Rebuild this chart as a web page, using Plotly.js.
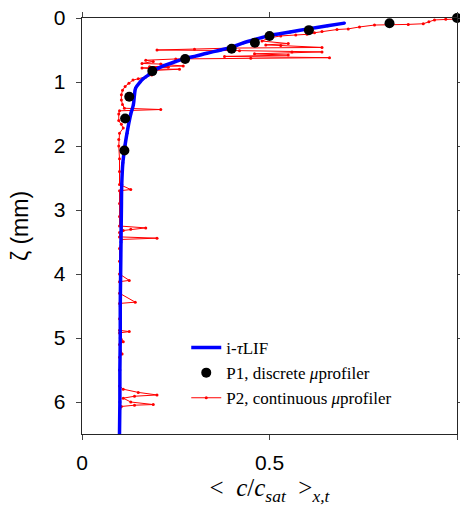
<!DOCTYPE html>
<html><head><meta charset="utf-8">
<script src="https://cdn.plot.ly/plotly-3.0.1.min.js"></script>
<style>body{margin:0;background:#fff}#plot{width:460px;height:515px}</style>
</head><body><div id="plot"></div>
<script>
// i-tauLIF profile
const lifZeta = [0.08,0.12,0.17,0.22,0.275,0.33,0.39,0.447,0.5,0.55,0.6,0.63,0.68,0.73,0.78,0.836,0.89,0.95,1.0,1.095,1.2,1.355,1.5,1.67,1.8,1.98,2.26,2.6,3.0,3.5,4.0,4.5,5.0,5.5,6.0,6.5];
const lifC    = [0.70,0.655,0.603,0.555,0.50,0.465,0.43,0.404,0.37,0.333,0.30,0.275,0.25,0.226,0.205,0.186,0.177,0.163,0.155,0.143,0.140,0.137,0.13,0.124,0.12,0.115,0.109,0.106,0.105,0.104,0.103,0.102,0.102,0.101,0.101,0.100];
// P1 discrete microprofiler
const p1Zeta = [0.0,0.083,0.19,0.28,0.385,0.48,0.64,0.83,1.23,1.57,2.07];
const p1C    = [1.0,0.82,0.605,0.50,0.461,0.399,0.275,0.1875,0.126,0.115,0.113];
// P2 continuous microprofiler
const p2Zeta = [0.016,0.02,0.03,0.06,0.09,0.10,0.10,0.11,0.14,0.17,0.18,0.21,0.23,0.255,0.265,0.28,0.31,0.36,0.40,0.42,0.43,0.46,0.47,0.49,0.50,0.51,0.53,0.53,0.56,0.58,0.60,0.62,0.63,0.64,0.66,0.68,0.71,0.72,0.75,0.76,0.77,0.78,0.80,0.80,0.82,0.89,0.92,0.95,0.97,1.02,1.07,1.13,1.2,1.28,1.35,1.41,1.43,1.45,1.5,1.6,1.66,1.72,1.8,1.9,2.0,2.2,2.4,2.6,2.68,2.7,2.9,3.1,3.25,3.28,3.3,3.32,3.35,3.42,3.44,3.46,3.6,3.8,4.0,4.1,4.12,4.3,4.44,4.46,4.7,4.88,4.9,4.92,5.06,5.1,5.25,5.3,5.5,5.75,5.80,5.85,5.89,5.91,5.94,6.0,6.04,6.05,6.07,6.2];
const p2C    = [1.0,0.97,0.94,0.925,0.91,0.87,0.82,0.78,0.74,0.71,0.68,0.64,0.62,0.60,0.57,0.53,0.50,0.48,0.55,0.49,0.53,0.64,0.40,0.30,0.20,0.42,0.56,0.64,0.46,0.55,0.38,0.66,0.45,0.25,0.17,0.19,0.16,0.21,0.27,0.18,0.23,0.16,0.20,0.26,0.19,0.186,0.17,0.15,0.136,0.125,0.115,0.108,0.105,0.105,0.108,0.113,0.21,0.10,0.098,0.098,0.105,0.11,0.10,0.098,0.098,0.10,0.10,0.10,0.13,0.10,0.10,0.10,0.10,0.17,0.13,0.11,0.10,0.10,0.20,0.105,0.10,0.10,0.10,0.126,0.10,0.10,0.142,0.10,0.10,0.10,0.126,0.10,0.11,0.10,0.107,0.10,0.10,0.10,0.11,0.15,0.20,0.14,0.11,0.13,0.19,0.14,0.105,0.10];
const xTicks = [0,0.5,1];
const xTickText = ['0','0.5','1'];
const yTicks = [0,1,2,3,4,5,6];

const serif = 'Liberation Serif, DejaVu Serif, serif';
const sans = 'Liberation Sans, Arial, sans-serif';

const traces = [
  {x:p2C, y:p2Zeta, type:'scatter', mode:'lines+markers', name:'P2, continuous <i>μ</i>profiler',
   line:{color:'#ff0000', width:1}, marker:{color:'#ff0000', size:3}, legendrank:3},
  {x:lifC, y:lifZeta, type:'scatter', mode:'lines+markers', name:'i-<i>τ</i>LIF',
   line:{color:'#0000ff', width:3.5, shape:'spline'}, marker:{color:'#0000ff', size:3}, legendrank:1},
  {x:p1C, y:p1Zeta, type:'scatter', mode:'markers', name:'P1, discrete <i>μ</i>profiler',
   marker:{color:'#000000', size:10}, cliponaxis:false, legendrank:2}
];

const layout = {
  width:460, height:515,
  margin:{l:82, r:3, t:18, b:81},
  paper_bgcolor:'#fff', plot_bgcolor:'#fff',
  showlegend:true,
  legend:{x:0.278, y:0.25, xanchor:'left', yanchor:'top', bgcolor:'rgba(255,255,255,0)',
          font:{family:serif, size:17, color:'#000'}, traceorder:'normal', tracegroupgap:0},
  xaxis:{range:[0,1], tickvals:xTicks, ticktext:xTickText, ticks:'outside', ticklen:5,
         showline:true, linecolor:'#262626', linewidth:1.3, mirror:'ticks', showgrid:false, zeroline:false,
         tickfont:{family:sans, size:21, color:'#000'}, ticklabelstandoff:4,
         title:{text:'&lt;&nbsp;&nbsp;<i>c</i>/<i>c<sub>sat</sub></i>&nbsp;&nbsp;&gt;<sub><i>x,t</i></sub>', font:{family:serif, size:25, color:'#000'}, standoff:6}},
  yaxis:{range:[6.5,0], tickvals:yTicks, ticks:'outside', ticklen:5,
         showline:true, linecolor:'#262626', linewidth:1.3, mirror:'ticks', showgrid:false, zeroline:false,
         tickfont:{family:sans, size:21, color:'#000'}, ticklabelstandoff:6,
         title:{text:'ζ (mm)', font:{family:sans, size:23, color:'#000'}, standoff:18}}
};
Plotly.newPlot('plot', traces, layout, {staticPlot:true, displayModeBar:false});
</script>
</body></html>
